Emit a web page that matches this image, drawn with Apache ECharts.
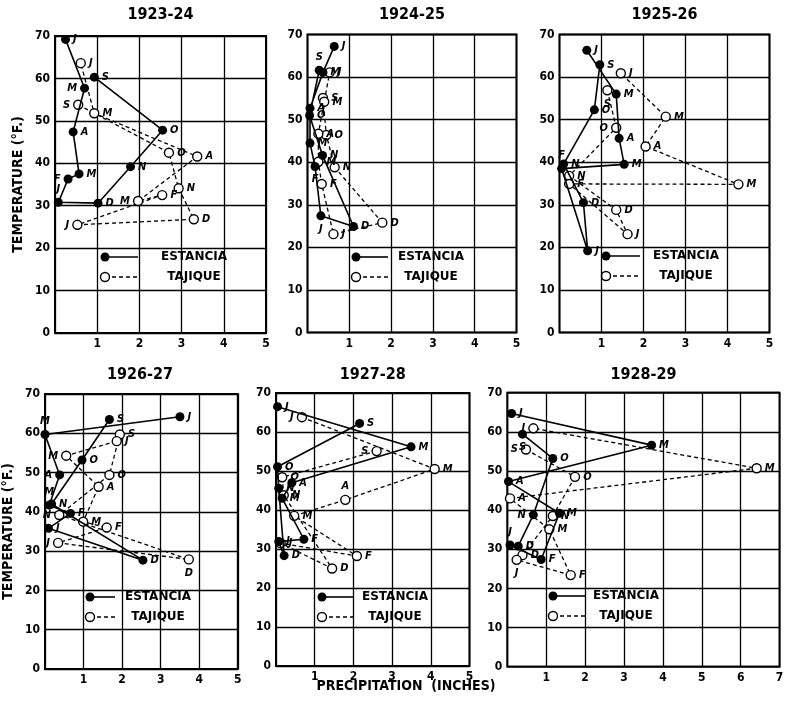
<!DOCTYPE html>
<html>
<head>
<meta charset="utf-8">
<script src="https://cdn.jsdelivr.net/npm/echarts@6/dist/echarts.min.js"></script>
<style>
  html, body { margin: 0; background: #fff; }
  #chart { width: 788px; height: 702px; }
</style>
</head>
<body>
<div id="chart"></div>
<script>
// months Sept -> June
const months = ['S', 'O', 'N', 'D', 'J', 'F', 'M', 'A', 'M', 'J'];
const titles = ['1923-24', '1924-25', '1925-26', '1926-27', '1927-28', '1928-29'];

// precipitation (inches) / temperature (°F)
const est2324Prec = [0.93, 2.55, 1.79, 1.02, 0.08, 0.31, 0.57, 0.43, 0.70, 0.25];
const est2324Temp = [60.3, 47.8, 39.2, 30.6, 30.8, 36.3, 37.5, 47.4, 57.7, 69.2];
const taj2324Prec = [0.55, 2.70, 2.93, 3.29, 0.53, 2.54, 1.97, 3.37, 0.93, 0.61];
const taj2324Temp = [53.8, 42.5, 34.1, 26.8, 25.5, 32.5, 31.1, 41.6, 51.8, 63.6];

const est2425Prec = [0.28, 0.05, 0.36, 1.10, 0.32, 0.18, 0.06, 0.06, 0.37, 0.64];
const est2425Temp = [61.6, 51.0, 41.6, 24.9, 27.4, 39.0, 44.5, 52.7, 61.1, 67.2];
const taj2425Prec = [0.37, 0.45, 0.65, 1.79, 0.62, 0.34, 0.26, 0.26, 0.40, 0.53];
const taj2425Temp = [55.1, 46.4, 38.8, 25.8, 23.1, 34.9, 40.1, 46.7, 54.2, 61.1];

const est2526Prec = [0.96, 0.83, 0.10, 0.57, 0.67, 0.05, 1.54, 1.42, 1.35, 0.65];
const est2526Temp = [62.9, 52.3, 39.6, 30.5, 19.2, 38.5, 39.5, 45.6, 56.0, 66.3];
const taj2526Prec = [1.14, 1.35, 0.23, 1.35, 1.62, 0.23, 4.26, 2.05, 2.53, 1.46];
const taj2526Temp = [56.9, 48.1, 36.8, 28.8, 23.1, 34.9, 34.8, 43.7, 50.7, 60.9];

const est2627Prec = [1.67, 0.96, 0.17, 2.54, 0.09, 0.66, 0.11, 0.38, 0.00, 3.50];
const est2627Temp = [63.5, 53.2, 42.0, 27.7, 35.8, 39.6, 41.7, 49.4, 59.7, 64.2];
const taj2627Prec = [1.94, 1.67, 0.37, 3.73, 0.34, 1.60, 0.99, 1.39, 0.55, 1.86];
const taj2627Temp = [59.7, 49.4, 39.2, 27.9, 32.1, 36.0, 37.5, 46.4, 54.3, 58.0];

const est2728Prec = [2.16, 0.04, 0.07, 0.21, 0.07, 0.72, 0.16, 0.41, 3.49, 0.04];
const est2728Temp = [62.2, 51.1, 45.6, 28.3, 31.9, 32.5, 43.0, 47.0, 56.2, 66.5];
const taj2728Prec = [2.60, 0.16, 0.20, 1.45, 0.12, 2.09, 0.47, 1.79, 4.10, 0.67];
const taj2728Temp = [55.1, 48.4, 43.8, 25.0, 31.5, 28.2, 38.5, 42.6, 50.5, 63.8];

const est2829Prec = [0.39, 1.17, 0.67, 0.28, 0.07, 0.87, 1.34, 0.03, 3.71, 0.11];
const est2829Temp = [59.4, 53.2, 38.8, 30.8, 31.1, 27.4, 39.2, 47.3, 56.6, 64.7];
const taj2829Prec = [0.48, 1.74, 1.17, 0.39, 0.24, 1.63, 1.08, 0.07, 6.41, 0.67];
const taj2829Temp = [55.5, 48.5, 38.5, 28.5, 27.3, 23.4, 35.1, 43.0, 50.7, 60.9];

const tempTicks = [0, 10, 20, 30, 40, 50, 60, 70];

const FONT = 'DejaVu Sans Condensed';

// layout of each small chart
const panels = [
  { est: [est2324Prec, est2324Temp], taj: [taj2324Prec, taj2324Temp], xMax: 5,
    grid: { left: 55, top: 36, width: 211, height: 297 }, yName: true,
    leg: [105, 257, 138, 194], estPlace: { 5: 'left', 8: 'left', 4: 'top' }, tajPlace: { 0: 'left', 4: 'left', 6: 'left' } },
  { est: [est2425Prec, est2425Temp], taj: [taj2425Prec, taj2425Temp], xMax: 5,
    grid: { left: 307.5, top: 34.5, width: 209, height: 298 },
    leg: [356, 257, 388, 431], estPlace: { 0: 'top', 5: 'bottom', 4: 'bottom' }, tajPlace: {} },
  { est: [est2526Prec, est2526Temp], taj: [taj2526Prec, taj2526Temp], xMax: 5,
    grid: { left: 559.5, top: 34.5, width: 210, height: 298 },
    leg: [606, 256, 640, 686], estPlace: { 5: 'top' }, tajPlace: { 0: 'bottom', 1: 'left' } },
  { est: [est2627Prec, est2627Temp], taj: [taj2627Prec, taj2627Temp], xMax: 5,
    grid: { left: 42.3, top: 394, width: 195.5, height: 275 }, yName: true,
    leg: [90, 597, 115, 158], estPlace: { 7: 'left', 6: 'top', 8: 'top' }, tajPlace: { 8: 'left', 2: 'left', 4: 'left', 3: 'bottom' } },
  { est: [est2728Prec, est2728Temp], taj: [taj2728Prec, taj2728Temp], xMax: 5,
    grid: { left: 276, top: 393, width: 193.5, height: 273 },
    leg: [322, 597, 353, 395], estPlace: {}, tajPlace: { 9: 'left', 0: 'left', 7: 'top' } },
  { est: [est2829Prec, est2829Temp], taj: [taj2829Prec, taj2829Temp], xMax: 7,
    grid: { left: 507.3, top: 392.7, width: 272.3, height: 274 },
    leg: [553, 596, 585, 626], estPlace: { 0: 'bottom', 2: 'left', 4: 'top' }, tajPlace: { 0: 'left', 9: 'left', 4: 'bottom' } }
];

function points(pair, place) {
  return pair[0].map((p, i) => ({
    value: [p, pair[1][i]],
    label: { position: place[i] || 'right' }
  }));
}

const monthLabel = {
  show: true,
  formatter: (p) => months[p.dataIndex],
  color: '#000',
  fontFamily: FONT,
  fontStyle: 'italic',
  fontWeight: 'bold',
  fontSize: 11,
  distance: 3
};

const grid = [], xAxis = [], yAxis = [], series = [], graphic = [];

panels.forEach((pn, k) => {
  grid.push(Object.assign({ show: true, borderColor: '#000', borderWidth: 2, containLabel: false }, pn.grid));
  xAxis.push({
    gridIndex: k, type: 'value', min: 0, max: pn.xMax, interval: 1,
    axisLine: { show: false }, axisTick: { show: false },
    splitLine: { lineStyle: { color: '#000', width: 1.3 } },
    axisLabel: { formatter: (v) => (v === 0 ? '' : v), color: '#000', fontFamily: FONT, fontWeight: 'bold', fontSize: 12, margin: 5 }
  });
  yAxis.push({
    gridIndex: k, type: 'value', min: tempTicks[0], max: tempTicks[tempTicks.length - 1], interval: 10,
    axisLine: { show: false }, axisTick: { show: false },
    splitLine: { lineStyle: { color: '#000', width: 1.3 } },
    axisLabel: { color: '#000', fontFamily: FONT, fontWeight: 'bold', fontSize: 12, margin: 5 },
    name: pn.yName ? 'TEMPERATURE (°F.)' : '',
    nameLocation: 'middle', nameGap: 30,
    nameTextStyle: { color: '#000', fontFamily: FONT, fontWeight: 'bold', fontSize: 14 }
  });
  series.push({
    name: 'TAJIQUE', type: 'line', xAxisIndex: k, yAxisIndex: k,
    data: points(pn.taj, pn.tajPlace), clip: false, z: 2,
    symbol: 'circle', symbolSize: 9,
    itemStyle: { color: '#fff', borderColor: '#000', borderWidth: 1.4 },
    lineStyle: { color: '#000', width: 1.3, type: [4, 3] },
    label: monthLabel
  });
  series.push({
    name: 'ESTANCIA', type: 'line', xAxisIndex: k, yAxisIndex: k,
    data: points(pn.est, pn.estPlace), clip: false, z: 3,
    symbol: 'circle', symbolSize: 9,
    itemStyle: { color: '#000' },
    lineStyle: { color: '#000', width: 1.6 },
    label: monthLabel
  });

  // title
  graphic.push({
    type: 'text', x: pn.grid.left + pn.grid.width / 2, y: k < 3 ? 15 : 375,
    style: { text: titles[k], fill: '#000', font: 'bold 16px "' + FONT + '"', textAlign: 'center', verticalAlign: 'middle' }
  });
  // legend box
  const [mx, my, lx, tx] = pn.leg;
  graphic.push(
    { type: 'line', shape: { x1: mx, y1: my, x2: lx, y2: my }, style: { stroke: '#000', lineWidth: 1.6 } },
    { type: 'circle', shape: { cx: mx, cy: my, r: 4.5 }, style: { fill: '#000' } },
    { type: 'text', x: tx, y: my, style: { text: 'ESTANCIA', fill: '#000', font: 'bold 12px "DejaVu Sans"', textAlign: 'center', verticalAlign: 'middle' } },
    { type: 'line', shape: { x1: mx, y1: my + 20, x2: lx, y2: my + 20 }, style: { stroke: '#000', lineWidth: 1.3, lineDash: [4, 3] } },
    { type: 'circle', shape: { cx: mx, cy: my + 20, r: 4.5 }, style: { fill: '#fff', stroke: '#000', lineWidth: 1.4 } },
    { type: 'text', x: tx, y: my + 20, style: { text: 'TAJIQUE', fill: '#000', font: 'bold 12px "DejaVu Sans"', textAlign: 'center', verticalAlign: 'middle' } }
  );
});

graphic.push({
  type: 'text', x: 406, y: 686,
  style: { text: 'PRECIPITATION  (INCHES)', fill: '#000', font: 'bold 14px "' + FONT + '"', textAlign: 'center', verticalAlign: 'middle' }
});

const chart = echarts.init(document.getElementById('chart'));
chart.setOption({
  animation: false,
  backgroundColor: '#fff',
  grid, xAxis, yAxis, series, graphic
});
</script>
</body>
</html>
